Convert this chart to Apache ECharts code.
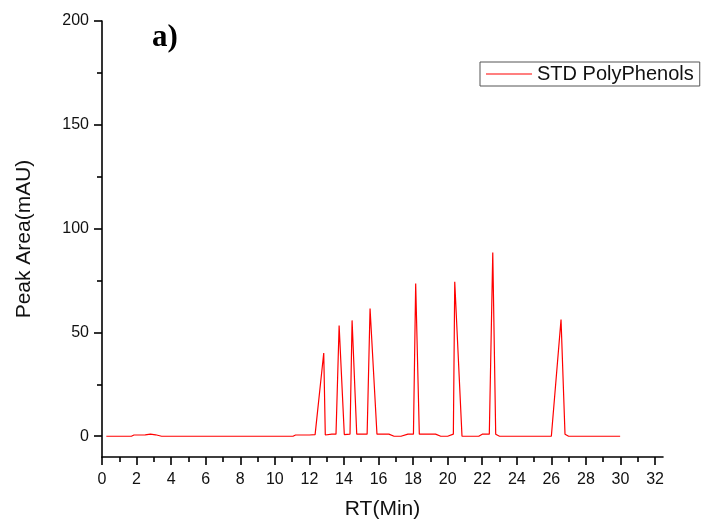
<!DOCTYPE html>
<html>
<head>
<meta charset="utf-8">
<script src="https://cdn.jsdelivr.net/npm/echarts@6/dist/echarts.min.js"></script>
<style>html,body{margin:0;padding:0;background:#fff}#c{width:705px;height:520px}</style>
</head>
<body>
<div id="c"></div>
<script>
// Retention time (min) and peak area (mAU)
const rt = [0.25, 1.7, 1.85, 2.5, 2.8, 3.1, 3.45, 11.05, 11.2, 12.0, 12.33, 12.83, 12.92, 13.3, 13.54, 13.72, 14.02, 14.35, 14.47, 14.74, 15.34, 15.51, 15.91, 16.6, 16.9, 17.3, 17.7, 18.02, 18.15, 18.36, 19.3, 19.6, 20.0, 20.33, 20.41, 20.83, 21.8, 22.0, 22.41, 22.61, 22.78, 23.0, 26.0, 26.08, 26.56, 26.79, 27.0, 29.98];
const area = [0, 0, 0.6, 0.7, 1.0, 0.7, 0, 0, 0.6, 0.6, 0.8, 40.1, 0.6, 1.0, 1.0, 53.3, 0.8, 1.0, 55.8, 1.0, 1.0, 61.5, 1.0, 1.0, 0, 0, 1.0, 1.0, 73.6, 1.0, 1.0, 0, 0, 1.0, 74.4, 0, 0, 1.0, 1.0, 88.5, 1.0, 0, 0, 0.5, 56.2, 1.0, 0, 0];
const seriesName = 'STD PolyPhenols';
const xMajorTicks = [0, 2, 4, 6, 8, 10, 12, 14, 16, 18, 20, 22, 24, 26, 28, 30, 32];
const xMinorTicks = [1, 3, 5, 7, 9, 11, 13, 15, 17, 19, 21, 23, 25, 27, 29, 31];
const yMajorTicks = [0, 50, 100, 150, 200];
const yMinorTicks = [25, 75, 125, 175];
const xTitle = 'RT(Min)';
const yTitle = 'Peak Area(mAU)';
const panelLabel = 'a)';

const data = rt.map((t, i) => [t, area[i]]);
const font = 'Liberation Sans, Arial, sans-serif';
const axisLine = { show: true, onZero: false, lineStyle: { color: '#000', width: 1.6 } };
const tickStyle = { color: '#000', width: 1.6 };

const chart = echarts.init(document.getElementById('c'), null, { renderer: 'canvas' });
chart.setOption({
  backgroundColor: '#fff',
  animation: false,
  grid: { left: 102, right: 42, top: 21, bottom: 63, containLabel: false, outerBoundsMode: 'none' },
  legend: {
    left: 480, top: 62,
    padding: [2, 6, 2, 6],
    borderColor: '#555', borderWidth: 1,
    itemWidth: 46, itemHeight: 1.2,
    textStyle: { fontFamily: font, fontSize: 20, color: '#111', lineHeight: 20 },
    data: [{ name: seriesName, icon: 'rect' }]
  },
  xAxis: [{
    type: 'value', position: 'bottom', min: 0, max: 32.46,
    name: xTitle, nameLocation: 'middle', nameGap: 42,
    nameTextStyle: { fontFamily: font, fontSize: 21, color: '#111' },
    axisLine: axisLine,
    axisTick: { show: true, inside: false, length: 8, customValues: xMajorTicks, lineStyle: tickStyle },
    axisLabel: { show: true, margin: 15, customValues: xMajorTicks, fontFamily: font, fontSize: 16, color: '#111' },
    splitLine: { show: false }
  }, {
    type: 'value', position: 'bottom', min: 0, max: 32.46,
    axisLine: { show: false, onZero: false },
    axisTick: { show: true, inside: false, length: 5, customValues: xMinorTicks, lineStyle: tickStyle },
    axisLabel: { show: false },
    splitLine: { show: false }
  }],
  yAxis: [{
    type: 'value', position: 'left', min: -10, max: 200,
    name: yTitle, nameLocation: 'middle', nameGap: 67, nameRotate: 90,
    nameTextStyle: { fontFamily: font, fontSize: 21, color: '#111' },
    axisLine: axisLine,
    axisTick: { show: true, inside: false, length: 8, customValues: yMajorTicks, lineStyle: tickStyle },
    axisLabel: { show: true, margin: 13, customValues: yMajorTicks, fontFamily: font, fontSize: 16, color: '#111' },
    splitLine: { show: false }
  }, {
    type: 'value', position: 'left', min: -10, max: 200,
    axisLine: { show: false, onZero: false },
    axisTick: { show: true, inside: false, length: 5, customValues: yMinorTicks, lineStyle: tickStyle },
    axisLabel: { show: false },
    splitLine: { show: false }
  }],
  graphic: [{
    type: 'text', left: 152, top: 22,
    style: { text: panelLabel, fontFamily: 'Liberation Serif, Times New Roman, serif', fontWeight: 'bold', fontSize: 31, fill: '#000' }
  }],
  series: [{
    name: seriesName, type: 'line', xAxisIndex: 0, yAxisIndex: 0,
    data: data, symbol: 'none', smooth: false,
    lineStyle: { color: '#ff0000', width: 1.2 },
    itemStyle: { color: '#ff0000' }
  }]
});
</script>
</body>
</html>
